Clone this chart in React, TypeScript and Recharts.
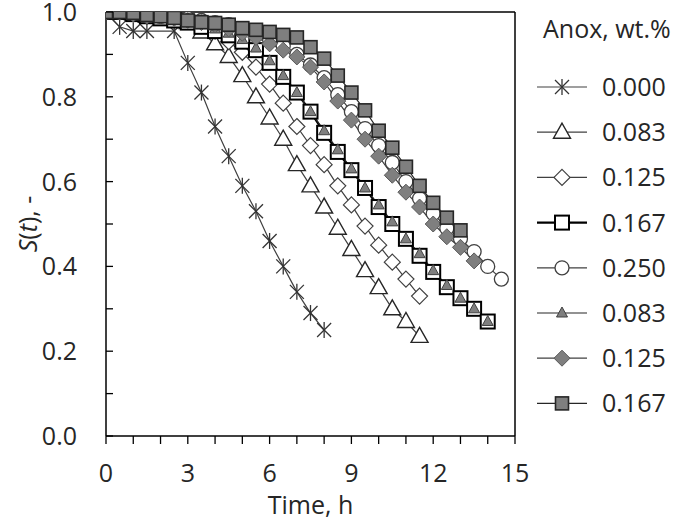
import React from "react";
import { LineChart, Line, XAxis, YAxis, ReferenceLine, Label } from "recharts";

// time grid, h
const hours = [
  0, 0.5, 1, 1.5, 2, 2.5, 3, 3.5, 4, 4.5, 5, 5.5, 6, 6.5, 7, 7.5, 8, 8.5, 9,
  9.5, 10, 10.5, 11, 11.5, 12, 12.5, 13, 13.5, 14, 14.5,
];
const starHours = [0, 0.5, 1, 1.5, 2.5, 3, 3.5, 4, 4.5, 5, 5.5, 6, 6.5, 7, 7.5, 8];

const xTicks = [0, 1, 2, 3, 4, 5, 6, 7, 8, 9, 10, 11, 12, 13, 14, 15];
const yTicks = [0, 0.1, 0.2, 0.3, 0.4, 0.5, 0.6, 0.7, 0.8, 0.9, 1.0];

const anoxLabels = ["0.000", "0.083", "0.125", "0.167", "0.250", "0.083", "0.125", "0.167"];

// S(t) values
const s000 = [1.0, 0.965, 0.955, 0.955, 0.955, 0.88, 0.81, 0.73, 0.66, 0.59, 0.53, 0.46, 0.4, 0.34, 0.29, 0.25];
const s083 = [
  1.0, 1.0, 0.995, 0.99, 0.99, 0.985, 0.975, 0.953, 0.925, 0.895, 0.85, 0.8,
  0.75, 0.7, 0.64, 0.59, 0.54, 0.49, 0.44, 0.39, 0.35, 0.3, 0.27, 0.235,
];
const s125 = [
  1.0, 1.0, 0.995, 0.99, 0.99, 0.985, 0.98, 0.97, 0.955, 0.93, 0.905, 0.87,
  0.83, 0.785, 0.73, 0.685, 0.64, 0.59, 0.545, 0.495, 0.45, 0.41, 0.37, 0.33,
];
const s167 = [
  1.0, 1.0, 0.995, 0.99, 0.985, 0.98, 0.975, 0.965, 0.955, 0.945, 0.93, 0.91,
  0.88, 0.847, 0.81, 0.765, 0.715, 0.67, 0.627, 0.585, 0.54, 0.5, 0.465,
  0.425, 0.387, 0.351, 0.325, 0.3, 0.27,
];
const s250 = [
  1.0, 1.0, 1.0, 0.995, 0.99, 0.99, 0.985, 0.98, 0.975, 0.97, 0.96, 0.95,
  0.935, 0.92, 0.9, 0.875, 0.845, 0.805, 0.765, 0.725, 0.685, 0.645, 0.6,
  0.56, 0.525, 0.49, 0.465, 0.435, 0.4, 0.37,
];
const s083b = [
  1.0, 1.0, 0.995, 0.99, 0.985, 0.98, 0.975, 0.97, 0.96, 0.95, 0.935, 0.915,
  0.885, 0.85, 0.81, 0.765, 0.72, 0.675, 0.63, 0.585, 0.545, 0.505, 0.465,
  0.43, 0.39, 0.355, 0.325, 0.3, 0.27,
];
const s125b = [
  1.0, 1.0, 0.995, 0.99, 0.99, 0.985, 0.98, 0.975, 0.97, 0.96, 0.95, 0.94,
  0.925, 0.91, 0.894, 0.87, 0.835, 0.79, 0.745, 0.7, 0.66, 0.615, 0.575,
  0.54, 0.5, 0.47, 0.445, 0.413,
];
const s167b = [
  1.0, 1.0, 0.998, 0.993, 0.99, 0.986, 0.98, 0.976, 0.974, 0.97, 0.962,
  0.958, 0.953, 0.946, 0.94, 0.917, 0.89, 0.85, 0.81, 0.768, 0.72, 0.68,
  0.635, 0.59, 0.55, 0.515, 0.485,
];

const FONT = "'Open Sans', sans-serif";
const TEXT = "#262626";
const FS = 25;

const toPoints = (times: number[], vals: number[]) =>
  vals.map((s, i) => ({ t: times[i], s }));

const series = [
  { key: "a000", kind: "star", data: toPoints(starHours, s000), stroke: "#404040", width: 1.2 },
  { key: "a083", kind: "tri", data: toPoints(hours, s083), stroke: "#404040", width: 1.2 },
  { key: "a125", kind: "dia", data: toPoints(hours, s125), stroke: "#404040", width: 1.2 },
  { key: "a167", kind: "sq", data: toPoints(hours, s167), stroke: "#000", width: 2.2 },
  { key: "a250", kind: "circ", data: toPoints(hours, s250), stroke: "#404040", width: 1.2 },
  { key: "b083", kind: "ftri", data: toPoints(hours, s083b), stroke: "#262626", width: 1.2 },
  { key: "b125", kind: "fdia", data: toPoints(hours, s125b), stroke: "#404040", width: 1.2 },
  { key: "b167", kind: "fsq", data: toPoints(hours, s167b), stroke: "#262626", width: 1.2 },
];

function Marker({ kind, cx, cy }: { kind: string; cx: number; cy: number }) {
  if (cx == null || cy == null) return null;
  switch (kind) {
    case "star":
      return (
        <g stroke="#333" strokeWidth={1.3}>
          <line x1={cx} y1={cy - 8} x2={cx} y2={cy + 8} />
          <line x1={cx - 7} y1={cy - 7} x2={cx + 7} y2={cy + 7} />
          <line x1={cx - 7} y1={cy + 7} x2={cx + 7} y2={cy - 7} />
        </g>
      );
    case "tri":
      return (
        <polygon
          points={`${cx},${cy - 9} ${cx - 8.5},${cy + 6} ${cx + 8.5},${cy + 6}`}
          fill="#fff"
          stroke="#262626"
          strokeWidth={1.4}
        />
      );
    case "dia":
      return (
        <polygon
          points={`${cx},${cy - 8} ${cx + 8},${cy} ${cx},${cy + 8} ${cx - 8},${cy}`}
          fill="#fff"
          stroke="#404040"
          strokeWidth={1.2}
        />
      );
    case "sq":
      return <rect x={cx - 7} y={cy - 7} width={14} height={14} fill="#fff" stroke="#000" strokeWidth={2} />;
    case "circ":
      return <circle cx={cx} cy={cy} r={7} fill="#fff" stroke="#404040" strokeWidth={1.3} />;
    case "ftri":
      return (
        <polygon
          points={`${cx},${cy - 6} ${cx - 5.5},${cy + 4} ${cx + 5.5},${cy + 4}`}
          fill="#7f7f7f"
          stroke="#404040"
          strokeWidth={1}
        />
      );
    case "fdia":
      return (
        <polygon
          points={`${cx},${cy - 8} ${cx + 8},${cy} ${cx},${cy + 8} ${cx - 8},${cy}`}
          fill="#7f7f7f"
          stroke="#595959"
          strokeWidth={1}
        />
      );
    case "fsq":
      return <rect x={cx - 6.5} y={cy - 6.5} width={13} height={13} fill="#7f7f7f" stroke="#262626" strokeWidth={1.6} />;
  }
  return null;
}

function XTick(props: any) {
  const { x, y, payload } = props;
  if (payload.value % 3 !== 0) return <g />;
  return (
    <text x={x} y={y} dy="0.72em" textAnchor="middle" fill={TEXT} fontSize={FS} fontFamily={FONT}>
      {payload.value}
    </text>
  );
}

function YTick(props: any) {
  const { x, y, payload, index } = props;
  const ax = x + 29;
  return (
    <g>
      <line x1={ax} y1={y} x2={ax + 7} y2={y} stroke="#000" strokeWidth={1.3} />
      {index % 2 === 0 && (
        <text x={x} y={y} dy="0.36em" textAnchor="end" fill={TEXT} fontSize={FS} fontFamily={FONT}>
          {payload.value.toFixed(1)}
        </text>
      )}
    </g>
  );
}

function Legend() {
  const top = 87;
  const step = 45.2;
  return (
    <svg width={150} height={430} style={{ position: "absolute", left: 525, top: 0 }}>
      <text x={18} y={38} fill={TEXT} fontSize={FS} fontFamily={FONT}>
        Anox, wt.%
      </text>
      {series.map((s, i) => {
        const cy = top + i * step;
        return (
          <g key={s.key}>
            <line x1={12} y1={cy} x2={62} y2={cy} stroke={s.stroke} strokeWidth={s.width} />
            <Marker kind={s.kind} cx={37} cy={cy} />
            <text x={77} y={cy} dy="0.36em" fill={TEXT} fontSize={FS} fontFamily={FONT}>
              {anoxLabels[i]}
            </text>
          </g>
        );
      })}
    </svg>
  );
}

export default function App() {
  return (
    <div style={{ position: "absolute", left: 0, top: 0, width: 675, height: 520, background: "#fff" }}>
      <LineChart width={675} height={520} margin={{ top: 12, right: 160, bottom: 0, left: 0 }}>
        <XAxis
          type="number"
          dataKey="t"
          domain={[0, 15]}
          ticks={xTicks}
          interval={0}
          height={84}
          allowDataOverflow
          axisLine={{ stroke: "#000", strokeWidth: 1.5 }}
          tickLine={{ stroke: "#000", strokeWidth: 1.3 }}
          tickSize={8}
          tickMargin={20}
          tick={<XTick />}
        >
          <Label
            content={(p: any) => {
              const vb = p.viewBox;
              return (
                <text x={vb.x + vb.width / 2} y={vb.y + 78} textAnchor="middle" fill={TEXT} fontSize={FS} fontFamily={FONT}>
                  Time, h
                </text>
              );
            }}
          />
        </XAxis>
        <YAxis
          type="number"
          dataKey="s"
          domain={[0, 1]}
          ticks={yTicks}
          interval={0}
          width={106}
          allowDataOverflow
          axisLine={{ stroke: "#000", strokeWidth: 1.5 }}
          tickLine={false}
          tickSize={0}
          tickMargin={29}
          tick={<YTick />}
        >
          <Label
            content={(p: any) => {
              const vb = p.viewBox;
              const cx = vb.x + 28;
              const cy = vb.y + vb.height / 2;
              return (
                <text
                  x={cx}
                  y={cy}
                  transform={`rotate(-90, ${cx}, ${cy})`}
                  textAnchor="middle"
                  dy="0.36em"
                  fill={TEXT}
                  fontSize={FS}
                  fontFamily={FONT}
                >
                  <tspan fontStyle="italic">S</tspan>(<tspan fontStyle="italic">t</tspan>), -
                </text>
              );
            }}
          />
        </YAxis>
        <ReferenceLine y={1} stroke="#000" strokeWidth={1.5} ifOverflow="visible" />
        <ReferenceLine x={15} stroke="#000" strokeWidth={1.5} ifOverflow="visible" />
        {series.map((s) => (
          <Line
            key={s.key}
            data={s.data}
            dataKey="s"
            type="linear"
            stroke={s.stroke}
            strokeWidth={s.width}
            isAnimationActive={false}
            dot={(p: any) => <Marker key={`${s.key}-${p.index}`} kind={s.kind} cx={p.cx} cy={p.cy} />}
            activeDot={false}
          />
        ))}
      </LineChart>
      <Legend />
    </div>
  );
}
